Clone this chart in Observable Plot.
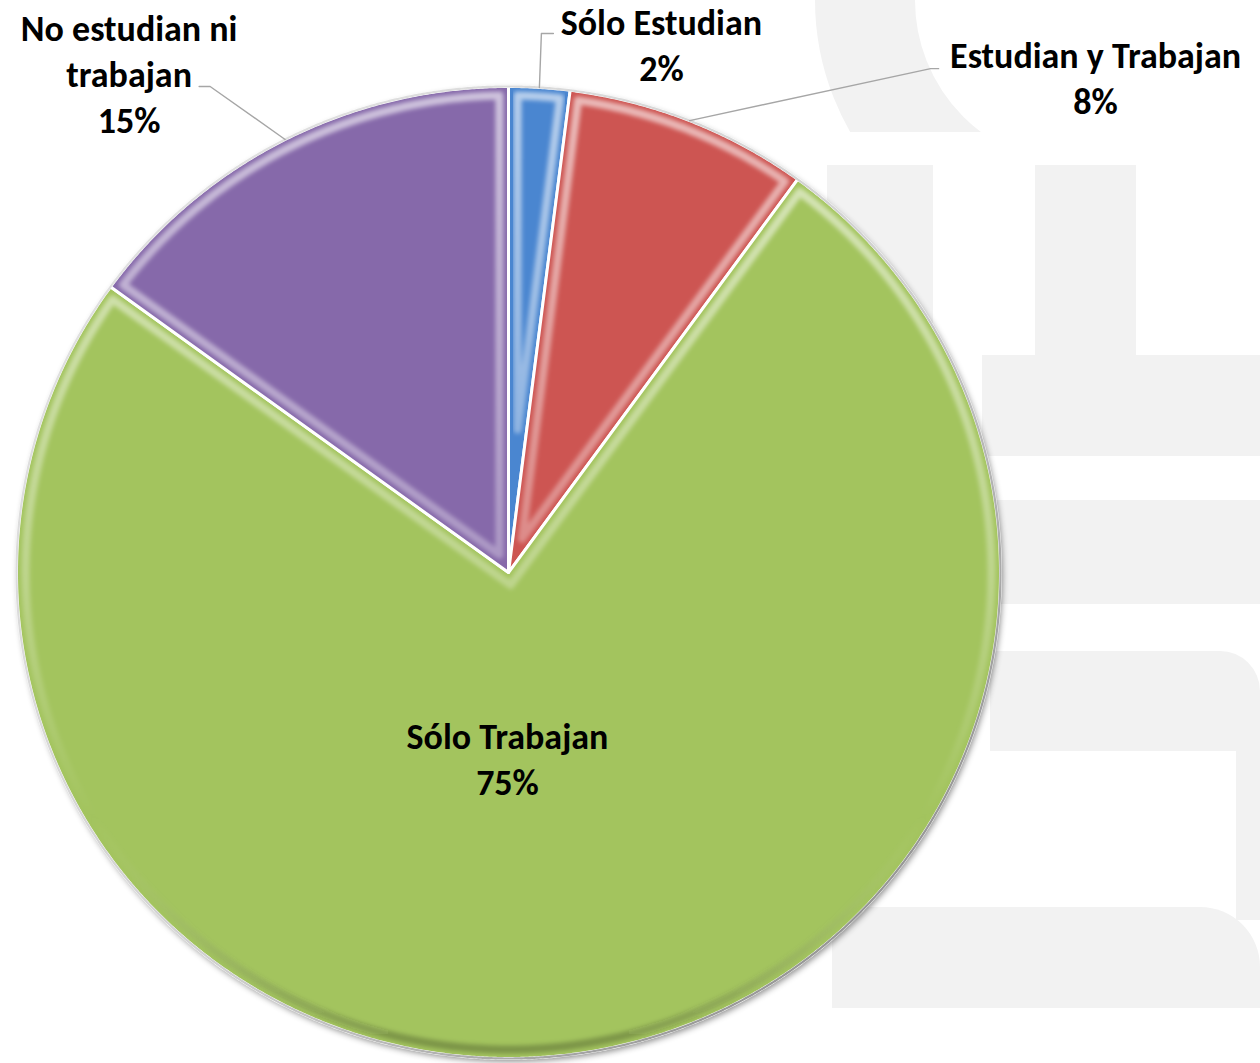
<!DOCTYPE html>
<html>
<head>
<meta charset="utf-8">
<script src="https://cdn.jsdelivr.net/npm/d3@7"></script>
<script src="https://cdn.jsdelivr.net/npm/@observablehq/plot@0.6"></script>
<style>
  body { margin: 0; background: #ffffff; }
  #wrap { position: relative; width: 1260px; height: 1063px; overflow: hidden; background: #ffffff; }
  .wm { position: absolute; background: #f2f2f2; }
  #ringclip { position: absolute; left: 0; top: 0; width: 1160px; height: 132px; overflow: hidden; }
  #ring { position: absolute; left: 815px; top: -265px; width: 530px; height: 530px; border-radius: 50%;
          border: 100px solid #f2f2f2; box-sizing: border-box; }
  #chart { position: absolute; left: 0; top: 0; }
</style>
</head>
<body>
<div id="wrap">
  <div id="ringclip"><div id="ring"></div></div>
  <div class="wm" style="left:827px;top:165px;width:106px;height:190px"></div>
  <div class="wm" style="left:1035px;top:165px;width:101px;height:190px"></div>
  <div class="wm" style="left:982px;top:355px;width:278px;height:101px"></div>
  <div class="wm" style="left:985px;top:500px;width:275px;height:104px"></div>
  <div class="wm" style="left:990px;top:651px;width:270px;height:100px;border-top-right-radius:40px"></div>
  <div class="wm" style="left:1236px;top:720px;width:24px;height:200px"></div>
  <div class="wm" style="left:832px;top:907px;width:428px;height:101px;border-top-right-radius:60px"></div>
  <div id="chart"></div>
</div>
<script>
// ---- data ----
const categories = ["Sólo Estudian", "Estudian y Trabajan", "Sólo Trabajan", "No estudian ni trabajan"];
const displayNames = ["Sólo Estudian", "Estudian y Trabajan", "Sólo Trabajan", "No estudian ni\ntrabajan"];
const values = [2, 8, 75, 15];
const colors = ["#4a86d0", "#cd5552", "#a3c45e", "#8669aa"];

// ---- layout ----
const W = 1260, H = 1063;
const CX = 508, CY = 572, RX = 492, RY = 486;
const FONT = "Carlito, Calibri, Lato, 'Open Sans', sans-serif";
const FS = 36;
// label offsets (pixels) relative to the rim point at each slice's mid-angle
const labelLayout = {
  "Sólo Estudian":           {text: [122, -44], elbow: [2, -54],   end: [14, -54]},
  "Estudian y Trabajan":     {text: [406, -44], elbow: [241, -52], end: [249, -52]},
  "No estudian ni trabajan": {text: [-156, -67], elbow: [-75, -53], end: [-86, -53]},
  "Sólo Trabajan":           {inside: true, text: [-1, 185]} // relative to pie centre
};

const data = categories.map((c, i) => ({
  category: c, value: values[i], color: colors[i],
  label: `${displayNames[i]}\n${values[i]}%`
}));
const arcs = d3.pie().sort(null).value(d => d.value)(data);

const polar = (a, r) => ({x: CX + r * (RX / RY) * Math.sin(a), y: CY - r * Math.cos(a)});
const R = RY;
function arcPoints(a0, a1, r) {
  const n = Math.max(2, Math.ceil((a1 - a0) / (Math.PI / 720)));
  return d3.range(n + 1).map(k => polar(a0 + (a1 - a0) * k / n, r));
}
function slicePoints(a) {
  return [{x: CX, y: CY}, ...arcPoints(a.startAngle, a.endAngle, R)];
}
function insetPoints(a, d) {
  const th = a.endAngle - a.startAngle;
  const mid = (a.startAngle + a.endAngle) / 2;
  const apex = polar(mid, d / Math.sin(th / 2));
  const t = Math.sqrt((R - d) ** 2 - d * d);
  const delta = Math.atan2(d, t);
  return [apex, ...arcPoints(a.startAngle + delta, a.endAngle - delta, R - d)];
}
const circle = arcPoints(0, 2 * Math.PI, R);

const marks = [];
// backing disc carrying the drop shadow
marks.push(Plot.line(circle, {x: "x", y: "y", curve: "linear-closed", fill: "#bdbdbd", stroke: "none", ariaDescription: "disc"}));
// slices
arcs.forEach(a => {
  marks.push(Plot.line(slicePoints(a), {
    x: "x", y: "y", curve: "linear-closed", fill: a.data.color,
    stroke: "white", strokeWidth: 3, strokeLinejoin: "round", ariaDescription: "slice"
  }));
});
// bevel highlight bands
arcs.forEach(a => {
  marks.push(Plot.line(insetPoints(a, 9), {
    x: "x", y: "y", curve: "linear-closed", fill: "none",
    stroke: "url(#bevelGrad)", strokeWidth: 8, strokeLinejoin: "round", ariaDescription: "bevel"
  }));
});
// outer rim
marks.push(Plot.line(circle, {x: "x", y: "y", curve: "linear-closed", fill: "none", stroke: "url(#rimGrad)", strokeWidth: 2.2, ariaDescription: "rim"}));

// labels and leaders
const textRows = [];
arcs.forEach(a => {
  const L = labelLayout[a.data.category];
  const mid = (a.startAngle + a.endAngle) / 2;
  if (L.inside) {
    textRows.push({x: CX + L.text[0], y: CY + L.text[1], label: a.data.label});
  } else {
    const p = polar(mid, R);
    const leader = [p, {x: p.x + L.elbow[0], y: p.y + L.elbow[1]}, {x: p.x + L.end[0], y: p.y + L.end[1]}];
    marks.push(Plot.line(leader, {x: "x", y: "y", stroke: "#a6a6a6", strokeWidth: 1.4, ariaDescription: "leader"}));
    textRows.push({x: p.x + L.text[0], y: p.y + L.text[1], label: a.data.label});
  }
});
marks.push(Plot.text(textRows, {
  x: "x", y: "y", text: "label", fill: "#000000", fontSize: FS, fontWeight: "bold",
  fontFamily: FONT, lineHeight: 46 / FS, textAnchor: "middle", lineAnchor: "middle"
}));

const chart = Plot.plot({
  width: W, height: H, margin: 0,
  x: {domain: [0, W], range: [0, W], axis: null},
  y: {domain: [0, H], range: [0, H], axis: null},
  style: {background: "transparent", overflow: "visible"},
  marks
});

// effects: defs for gradients and filters
const svg = d3.select(chart);
const defs = svg.insert("defs", ":first-child");
const bg = defs.append("linearGradient").attr("id", "bevelGrad")
  .attr("gradientUnits", "userSpaceOnUse").attr("x1", 0).attr("y1", CY - R).attr("x2", 0).attr("y2", CY + R);
bg.append("stop").attr("offset", "0").attr("stop-color", "#ffffff").attr("stop-opacity", 0.6);
bg.append("stop").attr("offset", "0.5").attr("stop-color", "#ffffff").attr("stop-opacity", 0.3);
bg.append("stop").attr("offset", "0.75").attr("stop-color", "#ffffff").attr("stop-opacity", 0.0);
bg.append("stop").attr("offset", "1").attr("stop-color", "#000000").attr("stop-opacity", 0.25);
const rg = defs.append("linearGradient").attr("id", "rimGrad")
  .attr("gradientUnits", "userSpaceOnUse").attr("x1", CX - RX).attr("y1", CY - R).attr("x2", CX + RX).attr("y2", CY + R);
rg.append("stop").attr("offset", "0").attr("stop-color", "#e6e6e6");
rg.append("stop").attr("offset", "0.55").attr("stop-color", "#cfcfcf");
rg.append("stop").attr("offset", "1").attr("stop-color", "#7a7a7a");
const sh = defs.append("filter").attr("id", "shadow").attr("x", "-10%").attr("y", "-10%").attr("width", "120%").attr("height", "120%");
sh.append("feDropShadow").attr("dx", 2).attr("dy", 3).attr("stdDeviation", 3)
  .attr("flood-color", "#000").attr("flood-opacity", 0.45);
const bl = defs.append("filter").attr("id", "blur").attr("x", "-10%").attr("y", "-10%").attr("width", "120%").attr("height", "120%");
bl.append("feGaussianBlur").attr("stdDeviation", 2.2);
svg.selectAll('g[aria-description="disc"]').attr("filter", "url(#shadow)");
svg.selectAll('g[aria-description="bevel"]').attr("filter", "url(#blur)");

document.getElementById("chart").appendChild(chart);
</script>
</body>
</html>
